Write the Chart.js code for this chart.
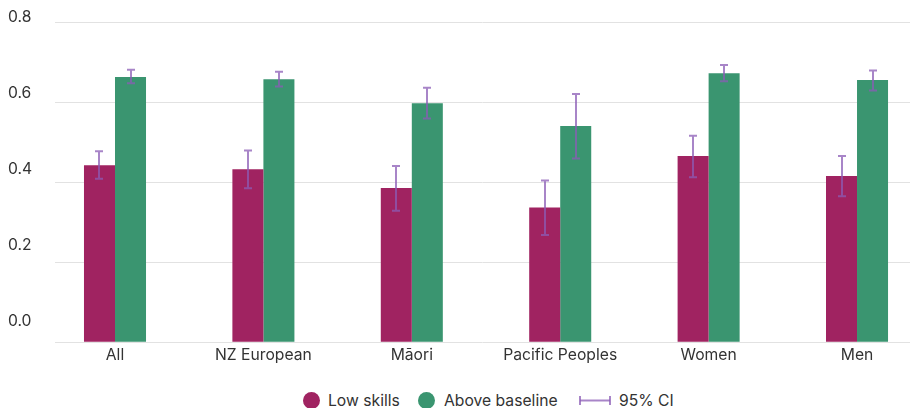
<!DOCTYPE html>
<html>
<head>
<meta charset="utf-8">
<script src="https://cdn.jsdelivr.net/npm/chart.js@4/dist/chart.umd.min.js"></script>
<style>
  html, body { margin: 0; padding: 0; background: #fff; }
  #wrap { position: relative; width: 910px; height: 408px; }
  #chartBox { position: absolute; left: 0; top: 0; width: 910px; height: 369px; }
  #legend { position: absolute; left: 0; top: 389px; width: 910px; height: 24px; font-family: Inter, "Noto Sans", sans-serif; font-size: 15.7px; color: #333; }
  .item { position: absolute; top: 0; height: 24px; line-height: 24px; white-space: nowrap; }
  .dot { position: absolute; top: 3px; width: 17px; height: 17px; border-radius: 50%; }
  .ci { position: absolute; top: 6px; width: 32px; height: 11px; }
</style>
</head>
<body>
<div id="wrap">
  <div id="chartBox"><canvas id="c"></canvas></div>
  <div id="legend"></div>
</div>
<script>
// ---- data ----
const categories = ["All", "NZ European", "M\u0101ori", "Pacific Peoples", "Women", "Men"];
const lowSkills = [0.443, 0.433, 0.386, 0.337, 0.466, 0.416];
const lowSkillsLower = [0.409, 0.385, 0.329, 0.268, 0.413, 0.365];
const lowSkillsUpper = [0.478, 0.480, 0.441, 0.405, 0.517, 0.466];
const aboveBaseline = [0.664, 0.658, 0.598, 0.541, 0.673, 0.656];
const aboveBaselineLower = [0.648, 0.640, 0.560, 0.460, 0.653, 0.630];
const aboveBaselineUpper = [0.682, 0.677, 0.637, 0.621, 0.694, 0.680];
const yTickLabels = [0.0, 0.2, 0.4, 0.6, 0.8];
const seriesNames = ["Low skills", "Above baseline", "95% CI"];

const colLow = "#A02361";
const colAbove = "#3A9570";
const colCI = "rgba(139, 92, 182, 0.75)";

const toPoints = arr => arr.map((v, i) => ({ x: i, y: v }));

const errorBars = {
  id: "errorBars",
  afterDatasetsDraw(chart) {
    const ctx = chart.ctx;
    const ys = chart.scales.y;
    ctx.save();
    ctx.strokeStyle = colCI;
    ctx.lineWidth = 2;
    chart.data.datasets.forEach((ds, di) => {
      const meta = chart.getDatasetMeta(di);
      meta.data.forEach((el, i) => {
        const x = Math.round(el.x);
        const yt = ys.getPixelForValue(ds.upper[i]);
        const yb = ys.getPixelForValue(ds.lower[i]);
        ctx.beginPath();
        ctx.moveTo(x, yt); ctx.lineTo(x, yb);
        ctx.moveTo(x - 4, yt); ctx.lineTo(x + 4, yt);
        ctx.moveTo(x - 4, yb); ctx.lineTo(x + 4, yb);
        ctx.stroke();
      });
    });
    ctx.restore();
  }
};

Chart.defaults.font.family = "Inter, 'Noto Sans', sans-serif";
Chart.defaults.color = "#333";

new Chart(document.getElementById("c"), {
  type: "bar",
  data: {
    datasets: [
      { label: seriesNames[0], data: toPoints(lowSkills), lower: lowSkillsLower, upper: lowSkillsUpper,
        backgroundColor: colLow, borderWidth: 0 },
      { label: seriesNames[1], data: toPoints(aboveBaseline), lower: aboveBaselineLower, upper: aboveBaselineUpper,
        backgroundColor: colAbove, borderWidth: 0 }
    ]
  },
  options: {
    responsive: true,
    maintainAspectRatio: false,
    animation: false,
    layout: { padding: { left: 8, right: 0, top: 0, bottom: 0 } },
    categoryPercentage: 0.418,
    barPercentage: 1.0,
    plugins: { legend: { display: false }, tooltip: { enabled: false } },
    scales: {
      x: {
        type: "linear",
        offset: false,
        min: -0.4043,
        max: 5.357,
        grid: { display: false, drawTicks: false, offset: false },
        border: { display: false },
        ticks: {
          stepSize: 1,
          includeBounds: false,
          autoSkip: false,
          maxRotation: 0,
          padding: 4,
          font: { size: 15.7 },
          color: "#333",
          callback: v => categories[v] !== undefined ? categories[v] : ""
        }
      },
      y: {
        position: "left",
        min: 0,
        max: 0.833,
        grid: { color: "#e2e2e2", lineWidth: 1, drawTicks: false },
        border: { display: false },
        ticks: { display: false, stepSize: 0.2, includeBounds: false },
        afterFit: s => { s.width = 0; }
      },
      yLabels: {
        position: "left",
        min: -0.054,
        max: 0.822,
        grid: { display: false, drawTicks: false },
        border: { display: false },
        afterBuildTicks: s => { s.ticks = yTickLabels.map(v => ({ value: v })); },
        ticks: {
          crossAlign: "far",
          padding: 0,
          font: { size: 15.7 },
          color: "#333",
          callback: v => Number(v).toFixed(1)
        },
        afterFit: s => { s.width = 47; }
      }
    }
  },
  plugins: [errorBars]
});

// ---- legend ----
const legend = document.getElementById("legend");
function addItem(left, html) {
  const d = document.createElement("div");
  d.className = "item";
  d.style.left = left + "px";
  d.innerHTML = html;
  legend.appendChild(d);
}
addItem(303, '<span class="dot" style="left:0;background:' + colLow + '"></span><span style="margin-left:25px">' + seriesNames[0] + '</span>');
addItem(418, '<span class="dot" style="left:0;background:' + colAbove + '"></span><span style="margin-left:26px">' + seriesNames[1] + '</span>');
addItem(579, '<svg class="ci" viewBox="0 0 32 11" style="left:0"><line x1="1" y1="5.5" x2="31" y2="5.5" stroke="' + colCI + '" stroke-width="2"/><line x1="1" y1="1" x2="1" y2="10" stroke="' + colCI + '" stroke-width="2"/><line x1="31" y1="1" x2="31" y2="10" stroke="' + colCI + '" stroke-width="2"/></svg><span style="margin-left:40px">' + seriesNames[2] + '</span>');
</script>
</body>
</html>
